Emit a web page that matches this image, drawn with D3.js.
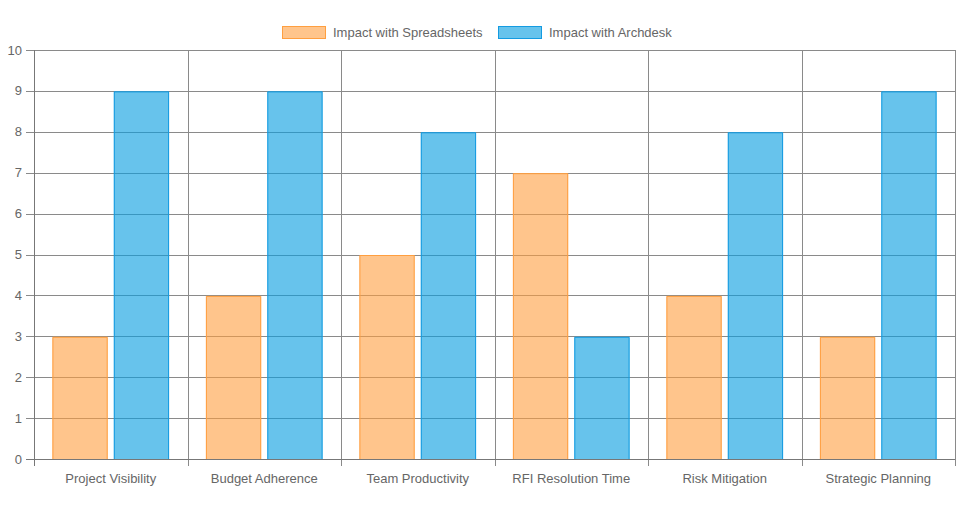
<!DOCTYPE html>
<html><head><meta charset="utf-8">
<script src="https://cdn.jsdelivr.net/npm/d3@7"></script>
<style>
html,body{margin:0;padding:0;background:#fff;}
svg{display:block;font-family:"Liberation Sans",Arial,Helvetica,sans-serif;}
</style></head>
<body>
<svg id="c" width="975" height="509"></svg>
<script>
const categories = ["Project Visibility","Budget Adherence","Team Productivity","RFI Resolution Time","Risk Mitigation","Strategic Planning"];
const seriesNames = ["Impact with Spreadsheets","Impact with Archdesk"];
const spreadsheets = [3,4,5,7,4,3];
const archdesk = [9,9,8,3,8,9];
const yTicks = [0,1,2,3,4,5,6,7,8,9,10];

(function(){
const fills = ["rgba(255,159,64,0.6)","rgba(10,158,225,0.62)"];
const strokes = ["rgb(255,159,64)","rgb(20,155,225)"];
const series = [spreadsheets, archdesk];

const svg = d3.select("#c");
const pLeft = 34, pRight = 955, pTop = 50, pBottom = 459;

const x = d3.scaleBand().domain(categories).range([pLeft, pRight]).paddingInner(0).paddingOuter(0);
const x1 = d3.scaleBand().domain(d3.range(series.length)).range([0, x.bandwidth()*0.8]);
const y = d3.scaleLinear().domain([0,10]).range([pBottom, pTop]);

const gridColor = "#8a8a8a";
svg.append("g").selectAll("line").data(yTicks).join("line")
  .attr("x1", pLeft-8).attr("x2", pRight)
  .attr("y1", d=>Math.round(y(d))+0.5).attr("y2", d=>Math.round(y(d))+0.5)
  .attr("stroke", gridColor).attr("stroke-width",1);
const bounds = categories.map(c=>x(c)).concat([pRight]);
svg.append("g").selectAll("line").data(bounds).join("line")
  .attr("x1", d=>Math.round(d)+0.5).attr("x2", d=>Math.round(d)+0.5)
  .attr("y1", pTop).attr("y2", pBottom+7)
  .attr("stroke", gridColor).attr("stroke-width",1);

const barW = x1.bandwidth()*0.9;
const bx = (i, si) => x(categories[i]) + x.bandwidth()*0.1 + x1(si) + (x1.bandwidth()-barW)/2;
series.forEach((vals, si) => {
  const g = svg.append("g");
  g.selectAll("rect").data(vals).join("rect")
    .attr("x", (d,i)=> bx(i,si))
    .attr("y", d=>y(d)+0.5)
    .attr("width", barW)
    .attr("height", d=>pBottom - y(d))
    .attr("fill", fills[si]);
  g.selectAll("path").data(vals).join("path")
    .attr("d", (d,i)=>{
      const x0 = bx(i,si) + 0.5;
      const xr = x0 + barW - 1;
      const yt = y(d)+1;
      return `M${x0},${pBottom}V${yt}H${xr}V${pBottom}`;
    })
    .attr("fill","none").attr("stroke", strokes[si]).attr("stroke-width",1);
});

svg.append("line").attr("x1",pLeft+0.5).attr("x2",pLeft+0.5).attr("y1",pTop).attr("y2",pBottom+7).attr("stroke","#777");
svg.append("line").attr("x1",pLeft-8).attr("x2",pRight).attr("y1",pBottom+0.5).attr("y2",pBottom+0.5).attr("stroke","#777");

svg.append("g").selectAll("text").data(yTicks).join("text")
  .attr("x", 22).attr("y", d=>y(d)).attr("dy","0.35em")
  .attr("text-anchor","end").attr("font-size",13).attr("fill","#666")
  .text(d=>d);

svg.append("g").selectAll("text").data(categories).join("text")
  .attr("x", d=>x(d)+x.bandwidth()/2).attr("y", 483)
  .attr("text-anchor","middle").attr("font-size",13).attr("fill","#666")
  .text(d=>d);

const legendItems = [{x:282, tx:333},{x:498, tx:549}];
legendItems.forEach((it, i)=>{
  svg.append("rect").attr("x", it.x+0.5).attr("y", 26.5).attr("width", 43).attr("height", 12)
    .attr("fill", fills[i]).attr("stroke", strokes[i]).attr("stroke-width",1);
  svg.append("text").attr("x", it.tx).attr("y", 32.5).attr("dy","0.35em")
    .attr("font-size",13).attr("fill","#666").text(seriesNames[i]);
});
})();
</script>
</body></html>
